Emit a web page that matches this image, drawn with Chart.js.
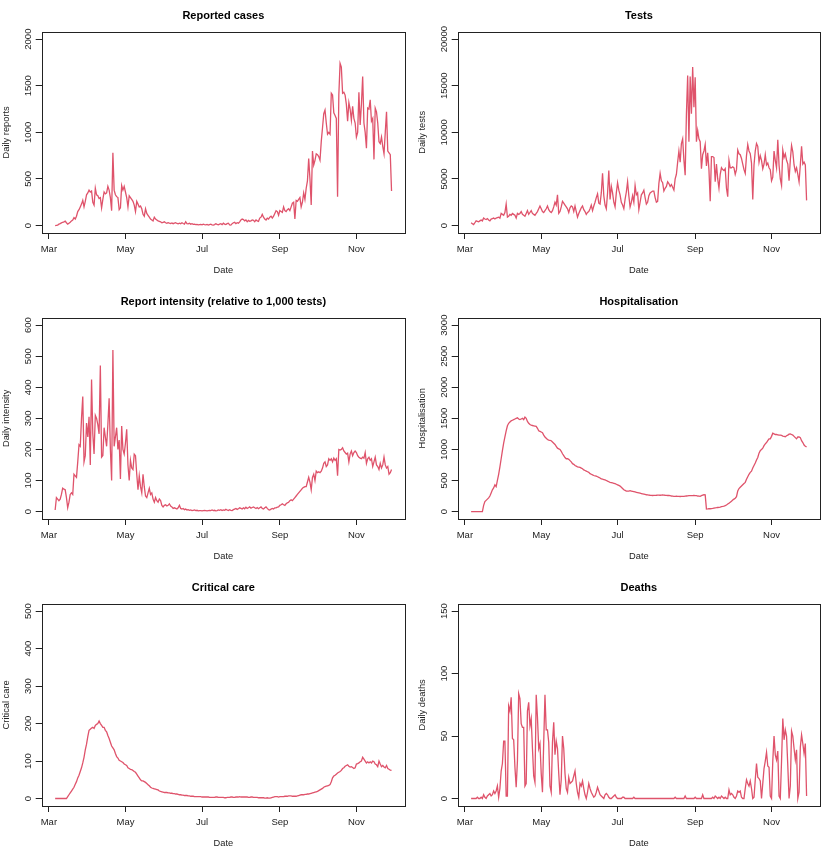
<!DOCTYPE html>
<html>
<head>
<meta charset="utf-8">
<title>COVID-19 daily series</title>
<script src="https://cdn.jsdelivr.net/npm/chart.js@4.4.1/dist/chart.umd.min.js"></script>
<style>
  body { margin: 0; background: #fff; }
  #page { position: relative; width: 830px; height: 859px; }
  #page canvas { position: absolute; }
</style>
</head>
<body>
<div id="page">
  <canvas id="cases" width="415" height="286" style="left:0;top:0"></canvas>
  <canvas id="tests" width="414" height="286" style="left:416px;top:0"></canvas>
  <canvas id="intensity" width="415" height="286" style="left:0;top:286px"></canvas>
  <canvas id="hospital" width="414" height="286" style="left:416px;top:286px"></canvas>
  <canvas id="critical" width="415" height="287" style="left:0;top:572px"></canvas>
  <canvas id="deaths" width="414" height="287" style="left:416px;top:572px"></canvas>
</div>
<script>
// series start 6 March (day 5 counted from 1 March), one value per day
const firstDay = 5;
const monthDays = [0, 61, 122, 184, 245];
const monthLabels = ["Mar", "May", "Jul", "Sep", "Nov"];

const cases = [
  0, 3, 5, 15, 20, 28, 35, 40, 48, 30,
  15, 25, 35, 50, 60, 85, 70, 100, 150, 170,
  200, 230, 270, 200, 260, 330, 350, 380, 360, 370,
  250, 220, 400, 330, 320, 290, 300, 190, 280, 360,
  340, 350, 420, 380, 300, 160, 780, 380, 330, 310,
  300, 170, 190, 430, 380, 420, 360, 300, 200, 320,
  300, 280, 260, 220, 150, 260, 230, 200, 210, 180,
  120, 100, 180, 130, 110, 90, 70, 60, 50, 90,
  70, 60, 50, 45, 40, 30, 35, 40, 30, 25,
  30, 25, 22, 28, 20, 25, 30, 22, 18, 25,
  20, 30, 22, 15, 40, 20, 18, 25, 15, 20,
  12, 15, 10, 12, 8, 10, 12, 8, 15, 10,
  8, 12, 5, 10, 15, 8, 5, 10, 20, 12,
  8, 15, 20, 10, 25, 15, 10, 20, 25, 8,
  5, 20, 30, 35, 20, 30, 25, 40, 60, 70,
  65, 50, 60, 40, 55, 45, 50, 60, 55, 40,
  60, 50, 45, 80, 90, 120, 90, 70, 60, 80,
  70, 90, 100, 80, 100, 130, 160, 150, 110, 160,
  150, 140, 200, 160, 150, 170, 180, 160, 200, 240,
  250, 70, 270, 260, 280, 300, 200, 250, 350, 280,
  400, 480, 720, 500, 220, 800, 650, 700, 770, 760,
  740, 700, 900, 1050, 1200, 1240, 1100, 980, 1000, 980,
  1420, 1400, 1210, 1180, 1150, 310, 1400, 1740, 1700, 1420,
  1430, 1400, 1300, 1120, 1320, 1250, 1130, 1280, 1150, 1100,
  950, 1000, 1430, 1080, 1300, 1600, 1100, 1000, 830, 1260,
  1250, 1350, 1120, 1150, 710, 1260, 1220, 1100, 900, 880,
  950, 850, 770, 1000, 1220, 800, 780, 760, 370
];

const tests = [
  300, 200, 100, 300, 500, 450, 400, 500, 600, 500,
  800, 700, 650, 750, 600, 500, 700, 750, 800, 700,
  800, 850, 900, 800, 1300, 1200, 1100, 1400, 2300, 900,
  1000, 1200, 1100, 1300, 1200, 1100, 800, 1300, 1200, 1300,
  1500, 1200, 1100, 1000, 1300, 1600, 1200, 1400, 1600, 1300,
  1200, 1100, 1300, 1500, 1800, 2100, 1800, 1500, 1400, 1600,
  1800, 2100, 1700, 1500, 1400, 1600, 2000, 2500, 2200, 3300,
  1300, 1500, 2000, 2600, 2400, 2200, 2000, 1800, 1400, 1900,
  2100, 2000, 1500, 2100, 1500, 900, 1300, 1600, 1900, 2100,
  1700, 1500, 1200, 1400, 1500, 1800, 2200, 1600, 2100, 2500,
  3000, 3400, 2400, 2300, 3500, 5600, 3200, 2200, 1800, 3500,
  5900, 2800, 4200, 3500, 2500, 2000, 3500, 4600, 3800, 3300,
  2500, 2200, 1800, 2800, 3600, 4700, 3200, 2000, 2500, 3200,
  2500, 4300, 3300, 3500, 1700, 2500, 3300, 3500, 3800, 3000,
  2300, 2500, 3200, 3500, 3600, 3700, 3700, 3000, 2500, 2600,
  4500, 5600, 4800, 4600, 3700, 4000, 4200, 4700, 4500, 4200,
  4400, 4100, 3800, 5000, 5500, 6800, 8000, 6800, 8800, 9300,
  7000, 5400, 12000, 16100, 9000, 16000, 12000, 17000, 12700, 15900,
  9000, 10200, 9300, 9000, 6100, 7600, 8000, 8700, 6400, 7800,
  6000, 2600, 7400, 7400, 7300, 4700, 6600, 5000, 4000, 5500,
  6200, 6000, 5900, 6100, 4000, 3100, 7000, 6200, 6200, 6300,
  6200, 5500, 6000, 8100, 7700, 7600, 7200, 6600, 6000, 5600,
  7500, 8700, 8000, 7700, 6700, 2800, 6500, 8000, 8800, 8500,
  6800, 7500, 7000, 6100, 6600, 7600, 6500, 6700, 6200, 6000,
  4800, 5200, 8000, 7000, 6200, 9200, 6500, 5000, 4300, 8100,
  7300, 7700, 7000, 6600, 4800, 7000, 8600, 7900, 6500, 5800,
  6200, 5500, 4700, 6500, 8500, 6600, 6800, 6500, 2700
];

const intensity = [
  5, 45, 40, 35, 40, 55, 75, 72, 70, 45,
  12, 30, 55, 60, 55, 120, 115, 110, 160, 215,
  210, 300, 370, 160, 180, 285, 240, 305, 150, 425,
  250, 185, 310, 300, 280, 250, 470, 175, 180, 270,
  240, 210, 280, 365, 200, 100, 520, 210, 240, 270,
  200, 230, 105, 275, 200, 185, 220, 265, 150, 100,
  165, 140, 135, 185, 180, 120, 70, 115, 80, 60,
  120, 80, 50, 45, 60, 75, 55, 60, 40, 30,
  45, 35, 30, 40, 35, 20, 15, 20, 22, 18,
  20, 25, 18, 15, 10, 12, 10, 8, 12, 20,
  10, 8, 10, 6, 8, 5, 6, 4, 5, 3,
  4, 5, 3, 4, 2, 3, 3, 2, 3, 4,
  3, 2, 3, 4, 3, 5, 3, 4, 2, 3,
  5, 4, 6, 3, 5, 4, 7, 5, 3, 6,
  4, 3, 6, 8, 10, 7, 9, 12, 10, 8,
  12, 9, 14, 10, 12, 15, 11, 13, 15, 12,
  10, 13, 9, 12, 15, 10, 8, 12, 15, 10,
  6, 5, 8, 10, 8, 12, 12, 14, 15, 20,
  22, 25, 22, 20, 25, 28, 30, 35, 38, 35,
  40, 45, 50, 55, 60, 65, 70, 75, 78, 80,
  80, 95, 110, 95, 70, 110, 120, 100, 130, 125,
  128, 125, 130, 140, 155, 160, 145, 150, 170, 165,
  170, 160, 172, 165, 170, 115, 200, 198, 200, 205,
  195, 190, 185, 188, 160, 185, 195, 180, 190, 195,
  190, 180, 175, 172, 170, 175, 172, 190, 155, 170,
  175, 165, 170, 145, 160, 175, 150, 145, 135, 155,
  140, 150, 175, 150, 140, 145, 120, 125, 135
];

const hospital = [
  0, 0, 0, 0, 0, 0, 0, 0, 0, 0,
  100, 160, 180, 200, 220, 250, 300, 350, 380, 430,
  400, 500, 600, 720, 850, 980, 1100, 1200, 1300, 1380,
  1420, 1440, 1460, 1470, 1480, 1490, 1500, 1510, 1490, 1480,
  1490, 1500, 1480, 1520, 1500, 1450, 1420, 1400, 1390, 1385,
  1380, 1375, 1370, 1340, 1300, 1290, 1280, 1270, 1230, 1200,
  1180, 1160, 1150, 1145, 1140, 1120, 1100, 1080, 1050, 1020,
  1010, 1000, 970, 930, 900, 870, 850, 850, 840, 820,
  800, 770, 760, 740, 730, 720, 715, 710, 700, 690,
  670, 660, 650, 640, 630, 610, 600, 590, 580, 575,
  570, 560, 550, 540, 525, 520, 515, 510, 500, 490,
  480, 470, 465, 460, 455, 450, 440, 430, 420, 410,
  390, 370, 350, 340, 330, 330, 330, 335, 330, 325,
  320, 315, 310, 305, 300, 295, 290, 285, 280, 275,
  270, 268, 265, 262, 260, 258, 260, 260, 262, 265,
  265, 262, 265, 268, 265, 262, 260, 258, 260, 255,
  250, 248, 245, 245, 248, 245, 245, 242, 245, 245,
  245, 248, 250, 252, 255, 255, 255, 255, 258, 255,
  255, 250, 248, 245, 255, 265, 270, 268, 40, 42,
  45, 45, 48, 50, 55, 60, 62, 65, 68, 72,
  78, 82, 88, 95, 105, 120, 135, 150, 165, 185,
  200, 215, 240, 330, 370, 390, 410, 430, 450, 470,
  520, 560, 600, 630, 650, 700, 740, 780, 830, 870,
  940, 980, 1000, 1020, 1060, 1090, 1110, 1140, 1170, 1170,
  1210, 1260, 1250, 1240, 1240, 1235, 1230, 1230, 1225, 1215,
  1210, 1205, 1220, 1230, 1245, 1250, 1240, 1230, 1210, 1190,
  1170, 1200, 1200, 1190, 1140, 1110, 1070, 1050, 1040
];

const critical = [
  0, 0, 0, 0, 0, 0, 0, 0, 0, 0,
  5, 10, 15, 20, 25, 30, 38, 45, 55, 62,
  72, 82, 95, 110, 130, 145, 165, 182, 185, 188,
  190, 187, 195, 198, 200, 207, 200, 195, 190, 190,
  182, 178, 168, 160, 150, 140, 135, 130, 120, 112,
  108, 102, 100, 98, 96, 92, 90, 88, 82, 80,
  78, 77, 75, 72, 70, 65, 60, 55, 50, 47,
  47, 45, 43, 40, 37, 34, 30, 28, 27, 26,
  25, 24, 23, 20, 19, 18, 17, 16, 16, 16,
  15, 15, 14, 14, 13, 13, 12, 12, 11, 10,
  10, 9, 9, 8, 8, 8, 7, 7, 6, 6,
  6, 5, 5, 5, 5, 5, 5, 4, 4, 4,
  4, 4, 4, 3, 3, 3, 3, 3, 4, 4,
  3, 3, 3, 3, 3, 2, 2, 3, 3, 3,
  4, 4, 3, 3, 4, 4, 4, 5, 4, 4,
  4, 4, 4, 4, 3, 3, 4, 4, 3, 3,
  3, 3, 2, 2, 2, 2, 2, 1, 1, 2,
  1, 1, 2, 3, 4, 5, 5, 5, 4, 5,
  5, 5, 5, 6, 6, 6, 7, 7, 7, 6,
  6, 6, 6, 7, 8, 9, 10, 10, 10, 11,
  11, 12, 12, 13, 14, 15, 16, 17, 18, 19,
  21, 23, 25, 27, 30, 32, 33, 34, 35, 37,
  45, 55, 60, 62, 65, 68, 70, 72, 75, 80,
  82, 86, 88, 90, 86, 84, 85, 83, 80, 82,
  92, 93, 95, 98, 100, 110, 105, 100, 95, 98,
  95, 98, 95, 100, 98, 92, 90, 85, 100, 92,
  85, 88, 84, 82, 88, 80, 78, 76, 75
];

const deaths = [
  0, 0, 0, 0, 0, 1, 0, 0, 1, 0,
  3, 1, 0, 2, 3, 4, 2, 3, 6, 4,
  6, 10, 1, 8, 22, 28, 46, 46, 2, 2,
  74, 70, 81, 48, 47, 25, 9, 30, 84, 80,
  60, 57, 57, 10, 12, 70, 77, 58, 64, 40,
  18, 13, 83, 65, 40, 44, 20, 5, 45, 83,
  55, 55, 45, 10, 5, 45, 61, 35, 46, 40,
  20, 3, 15, 50, 40, 20, 8, 5, 17, 12,
  13, 14, 18, 22, 12, 5, 1, 12, 10, 14,
  8, 3, 0, 5, 12, 8, 5, 3, 1, 2,
  5, 9, 6, 3, 2, 1, 0, 3, 4, 3,
  1, 0, 0, 1, 2, 3, 1, 0, 0, 0,
  0, 1, 1, 0, 0, 0, 0, 0, 0, 0,
  1, 0, 0, 0, 0, 0, 0, 0, 0, 0,
  0, 0, 0, 0, 0, 0, 0, 0, 0, 0,
  0, 0, 0, 0, 0, 0, 0, 0, 0, 0,
  0, 0, 0, 1, 0, 0, 0, 0, 0, 0,
  0, 2, 0, 0, 0, 0, 0, 0, 0, 1,
  0, 0, 0, 0, 0, 3, 0, 0, 0, 0,
  0, 0, 0, 1, 0, 2, 1, 0, 1, 0,
  2, 1, 0, 1, 0, 0, 7, 3, 4, 3,
  1, 0, 2, 6, 5, 6, 1, 0, 0, 8,
  15, 12, 10, 14, 8, 0, 1, 15, 28, 17,
  16, 14, 0, 12, 24, 30, 37, 26, 25, 2,
  0, 30, 50, 35, 31, 38, 2, 0, 30, 64,
  47, 55, 50, 26, 0, 10, 54, 50, 40, 31,
  39, 0, 5, 41, 51, 44, 36, 44, 2
];

Chart.defaults.font.family = '"Liberation Sans", Arial, Helvetica, sans-serif';
Chart.defaults.color = "#222";

const ink = "#222";
const lineColour = "#DF536B";

// R-style frame round the plot region plus y labels turned parallel to the axis
const rFrame = {
  id: "rFrame",
  afterDraw(chart) {
    const { ctx, chartArea: a } = chart;
    const y = chart.scales.y;
    ctx.save();
    ctx.strokeStyle = ink;
    ctx.lineWidth = 1;
    const l = Math.round(a.left) + 0.5, t = Math.round(a.top) + 0.5;
    const r = Math.round(a.right) + 0.5, b = Math.round(a.bottom) + 0.5;
    ctx.strokeRect(l, t, r - l, b - t);
    ctx.fillStyle = ink;
    ctx.font = '9.5px "Liberation Sans", Arial, sans-serif';
    ctx.textAlign = "center";
    ctx.textBaseline = "middle";
    y.ticks.forEach((tk) => {
      ctx.save();
      ctx.translate(a.left - 13.5, y.getPixelForValue(tk.value));
      ctx.rotate(-Math.PI / 2);
      ctx.fillText(String(tk.value), 0, 0);
      ctx.restore();
    });
    ctx.restore();
  },
};

function makePanel(id, title, yTitle, values, yTop, yStep) {
  const lastDay = firstDay + values.length - 1;
  const pad = (lastDay - firstDay) * 0.04;
  const points = values.map((v, i) => ({ x: firstDay + i, y: v }));

  new Chart(document.getElementById(id), {
    type: "line",
    data: {
      datasets: [
        {
          data: points,
          borderColor: lineColour,
          borderWidth: 1.3,
          pointRadius: 0,
          tension: 0,
          fill: false,
        },
      ],
    },
    plugins: [rFrame],
    options: {
      responsive: false,
      animation: false,
      layout: { padding: { left: 0, right: 10, top: 0, bottom: 0 } },
      plugins: {
        legend: { display: false },
        tooltip: { enabled: false },
        title: {
          display: true,
          text: title,
          fullSize: false,
          color: "#000",
          font: { size: 11, weight: "bold" },
          padding: { top: 9.3, bottom: 9.2 },
        },
      },
      scales: {
        x: {
          type: "linear",
          min: firstDay - pad,
          max: lastDay + pad,
          afterBuildTicks: (scale) => {
            scale.ticks = monthDays.map((d) => ({ value: d }));
          },
          afterFit: (scale) => {
            scale.height = 53;
          },
          ticks: {
            autoSkip: false,
            maxRotation: 0,
            padding: 5,
            font: { size: 9.5 },
            callback: (v) => monthLabels[monthDays.indexOf(v)],
          },
          grid: {
            drawOnChartArea: false,
            drawTicks: true,
            tickLength: 6,
            color: ink,
          },
          border: { display: false },
          title: {
            display: true,
            text: "Date",
            font: { size: 9.3 },
            padding: { top: 0, bottom: 10 },
          },
        },
        y: {
          type: "linear",
          min: -0.04 * yTop,
          max: 1.04 * yTop,
          afterBuildTicks: (scale) => {
            const ticks = [];
            for (let v = 0; v <= yTop; v += yStep) ticks.push({ value: v });
            scale.ticks = ticks;
          },
          afterFit: (scale) => {
            scale.width = 41.7;
          },
          ticks: { display: false },
          grid: {
            drawOnChartArea: false,
            drawTicks: true,
            tickLength: 6,
            color: ink,
          },
          border: { display: false },
          title: {
            display: true,
            text: yTitle,
            font: { size: 9.3 },
            padding: { top: 1.3, bottom: 0 },
          },
        },
      },
    },
  });
}

makePanel("cases", "Reported cases", "Daily reports", cases, 2000, 500);
makePanel("tests", "Tests", "Daily tests", tests, 20000, 5000);
makePanel("intensity", "Report intensity (relative to 1,000 tests)", "Daily intensity", intensity, 600, 100);
makePanel("hospital", "Hospitalisation", "Hospitalisation", hospital, 3000, 500);
makePanel("critical", "Critical care", "Critical care", critical, 500, 100);
makePanel("deaths", "Deaths", "Daily deaths", deaths, 150, 50);
</script>
</body>
</html>
